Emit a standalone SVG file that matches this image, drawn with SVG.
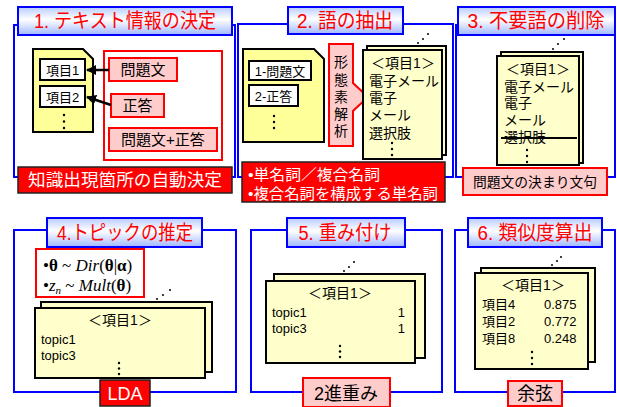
<svg xmlns="http://www.w3.org/2000/svg" width="617" height="407" viewBox="0 0 617 407">
<defs>
<linearGradient id="tg" x1="0" y1="0" x2="0" y2="1">
<stop offset="0" stop-color="#b8ccff"/>
<stop offset="0.45" stop-color="#ffffff"/>
<stop offset="1" stop-color="#a0b8ff"/>
</linearGradient>
<marker id="ah" viewBox="0 0 10 10" refX="9" refY="5" markerWidth="4" markerHeight="4" orient="auto">
<path d="M0,0 L10,5 L0,10 Z" fill="#000"/>
</marker>
<style>
.frame{fill:#fff;stroke:#0000ff;stroke-width:2}
.title{fill:url(#tg);stroke:#0000ff;stroke-width:2}
.tt{font-family:"Liberation Sans","Noto Sans CJK JP",sans-serif;font-size:20px;fill:#ff0000;text-anchor:middle}
.red{fill:#ff0000;stroke:#222;stroke-width:1.5}
.wt{font-family:"Liberation Sans","Noto Sans CJK JP",sans-serif;fill:#fff}
.pink{fill:#ffcccc;stroke:#ff0000;stroke-width:2}
.rbox{fill:#fff;stroke:#ff0000;stroke-width:2}
.doc{fill:#ffff99;stroke:#000;stroke-width:2}
.card{fill:#ffffcc;stroke:#000;stroke-width:2}
.wbox{fill:#fff;stroke:#000;stroke-width:2}
.t{font-family:"Liberation Sans","Noto Sans CJK JP",sans-serif;fill:#000}
.c{text-anchor:middle}
.dot{fill:#000}
.conn{stroke:#000;stroke-width:2.5;fill:none;marker-end:url(#ah)}
</style>
</defs>
<rect width="617" height="407" fill="#fff"/>

<!-- Panel 1 -->
<g id="panel1">
<rect class="frame" x="14" y="25" width="221" height="152"/>
<rect class="title" x="18" y="7" width="214" height="28"/>
<text class="tt" x="125" y="28" textLength="182" lengthAdjust="spacingAndGlyphs">1. テキスト情報の決定</text>
</g>
<g id="doc1">
<path class="doc" d="M33,49 H83 L93,59 V132 H33 Z"/>
</g>
<g id="item1">
<rect class="wbox" x="40" y="59" width="45" height="21"/>
<text class="t c" x="62.5" y="75" font-size="13">項目1</text>
</g>
<g id="item2">
<rect class="wbox" x="40" y="86" width="45" height="21"/>
<text class="t c" x="62.5" y="102" font-size="13">項目2</text>
</g>
<g id="dots1">
<circle class="dot" cx="64" cy="115" r="1.2"/><circle class="dot" cx="64" cy="121.5" r="1.2"/><circle class="dot" cx="64" cy="128" r="1.2"/>
</g>
<g id="choices">
<rect class="rbox" x="104" y="51" width="118" height="109"/>
</g>
<g id="mondaibun">
<rect class="pink" x="109" y="58" width="68" height="23"/>
<text class="t c" x="143" y="75" font-size="15">問題文</text>
</g>
<g id="seitou">
<rect class="pink" x="111" y="94" width="53" height="23"/>
<text class="t c" x="137.5" y="111" font-size="15">正答</text>
</g>
<g id="both">
<rect class="pink" x="109" y="128" width="108" height="23"/>
<text class="t c" x="163" y="145" font-size="15">問題文+正答</text>
</g>
<g id="auto1">
<rect class="red" x="18" y="167" width="214" height="26"/>
<text class="wt" x="125" y="186" font-size="17" text-anchor="middle" textLength="194" lengthAdjust="spacingAndGlyphs">知識出現箇所の自動決定</text>
</g>

<!-- Panel 2 -->
<g id="panel2">
<rect class="frame" x="238" y="24" width="215" height="153"/>
<rect class="title" x="288" y="7" width="115" height="27"/>
<text class="tt" x="345" y="28" textLength="96" lengthAdjust="spacingAndGlyphs">2. 語の抽出</text>
</g>
<g id="doc2">
<path class="doc" d="M243,49 H314 L324,59 V142 H243 Z"/>
</g>
<g id="q1">
<rect class="wbox" x="249" y="61" width="62" height="19"/>
<text class="t c" x="280" y="76" font-size="13">1-問題文</text>
</g>
<g id="q2">
<rect class="wbox" x="249" y="85" width="49" height="21"/>
<text class="t c" x="273.5" y="101" font-size="13">2-正答</text>
</g>
<g id="dots2">
<circle class="dot" cx="274" cy="116" r="1.2"/><circle class="dot" cx="274" cy="122" r="1.2"/><circle class="dot" cx="274" cy="128" r="1.2"/>
</g>
<g id="keitaiso">
<path class="pink" d="M329,44 H353 V83 L368,97 L353,111 V146 H329 Z"/>
<text class="t c" x="341" y="67" font-size="14">形</text>
<text class="t c" x="341" y="85" font-size="14">態</text>
<text class="t c" x="341" y="102" font-size="14">素</text>
<text class="t c" x="341" y="119" font-size="14">解</text>
<text class="t c" x="341" y="136" font-size="14">析</text>
</g>
<g id="card2">
<rect class="card" x="367" y="46" width="79" height="109"/>
<rect class="card" x="363" y="50" width="79" height="109"/>
<text class="t c" x="403" y="68" font-size="14">＜項目1＞</text>
<text class="t" x="369" y="86" font-size="14">電子メール</text>
<text class="t" x="369" y="103" font-size="14">電子</text>
<text class="t" x="369" y="120" font-size="14">メール</text>
<text class="t" x="369" y="138" font-size="14">選択肢</text>
<circle class="dot" cx="392" cy="143" r="1.2"/><circle class="dot" cx="392" cy="149" r="1.2"/><circle class="dot" cx="392" cy="155" r="1.2"/>
<circle class="dot" cx="418" cy="43" r="1"/><circle class="dot" cx="423" cy="39" r="1"/><circle class="dot" cx="428" cy="34" r="1"/>
</g>
<g id="nouns">
<rect class="red" x="242" y="162" width="203" height="40"/>
<text class="wt" x="248" y="180" font-size="15" textLength="132" lengthAdjust="spacingAndGlyphs">•単名詞／複合名詞</text>
<text class="wt" x="248" y="199" font-size="15" textLength="190" lengthAdjust="spacingAndGlyphs">•複合名詞を構成する単名詞</text>
</g>

<!-- Panel 3 -->
<g id="panel3">
<rect class="frame" x="456" y="25" width="159" height="152"/>
<rect class="title" x="458" y="7" width="157" height="28"/>
<text class="tt" x="536" y="28" textLength="137" lengthAdjust="spacingAndGlyphs">3. 不要語の削除</text>
</g>
<g id="card3">
<rect class="card" x="501" y="52" width="82" height="111"/>
<rect class="card" x="497" y="56" width="82" height="109"/>
<text class="t c" x="538" y="74" font-size="14">＜項目1＞</text>
<text class="t" x="504" y="92" font-size="14">電子メール</text>
<text class="t" x="504" y="108" font-size="14">電子</text>
<text class="t" x="504" y="125" font-size="14">メール</text>
<text class="t" x="504" y="142" font-size="14">選択肢</text>
<line x1="501" y1="138" x2="577" y2="138" stroke="#000" stroke-width="2"/>
<circle class="dot" cx="527" cy="150" r="1.2"/><circle class="dot" cx="527" cy="156" r="1.2"/><circle class="dot" cx="527" cy="162" r="1.2"/>
<circle class="dot" cx="553" cy="49" r="1"/><circle class="dot" cx="558" cy="44" r="1"/><circle class="dot" cx="564" cy="39" r="1"/>
</g>
<g id="kimari">
<rect class="pink" x="463" y="168" width="144" height="27"/>
<text class="t c" x="535" y="187" font-size="14" textLength="124" lengthAdjust="spacingAndGlyphs">問題文の決まり文句</text>
</g>

<!-- Panel 4 -->
<g id="panel4">
<rect class="frame" x="14" y="230" width="222" height="162"/>
<rect class="title" x="47" y="218" width="155" height="29"/>
<text class="tt" x="125" y="240" textLength="136" lengthAdjust="spacingAndGlyphs">4.トピックの推定</text>
</g>
<g id="formula">
<rect class="rbox" x="36" y="249" width="108" height="48"/>
<text x="43" y="271" font-family="Liberation Serif, serif" font-size="17" fill="#000">•<tspan font-weight="bold">θ</tspan> ~ <tspan font-style="italic">Dir</tspan>(<tspan font-weight="bold">θ</tspan>|<tspan font-weight="bold">α</tspan>)</text>
<text x="43" y="291" font-family="Liberation Serif, serif" font-size="17" fill="#000">•<tspan font-style="italic">z</tspan><tspan font-style="italic" font-size="11" dy="3">n</tspan><tspan dy="-3"> ~ </tspan><tspan font-style="italic">Mult</tspan>(<tspan font-weight="bold">θ</tspan>)</text>
</g>
<g id="card4">
<rect class="card" x="41" y="302" width="171" height="70"/>
<rect class="card" x="35" y="308" width="170" height="70"/>
<text class="t c" x="120" y="325" font-size="14">＜項目1＞</text>
<text class="t" x="41" y="344" font-size="13">topic1</text>
<text class="t" x="41" y="360" font-size="13">topic3</text>
<circle class="dot" cx="119" cy="363" r="1.2"/><circle class="dot" cx="119" cy="368.5" r="1.2"/><circle class="dot" cx="119" cy="374" r="1.2"/>
<circle class="dot" cx="157" cy="299" r="1"/><circle class="dot" cx="163" cy="295" r="1"/><circle class="dot" cx="170" cy="290" r="1"/>
</g>
<g id="lda">
<rect class="red" x="100" y="380" width="50" height="26"/>
<text class="wt c" x="125" y="400" font-size="18" text-anchor="middle">LDA</text>
</g>

<!-- Panel 5 -->
<g id="panel5">
<rect class="frame" x="251" y="230" width="191" height="162"/>
<rect class="title" x="287" y="218" width="118" height="29"/>
<text class="tt" x="345" y="240" textLength="93" lengthAdjust="spacingAndGlyphs">5. 重み付け</text>
</g>
<g id="card5">
<rect class="card" x="274" y="274" width="151" height="84"/>
<rect class="card" x="266" y="281" width="149" height="82"/>
<text class="t c" x="340" y="298" font-size="14">＜項目1＞</text>
<text class="t" x="272" y="317" font-size="13">topic1</text>
<text class="t" x="405" y="317" font-size="13" text-anchor="end">1</text>
<text class="t" x="272" y="333" font-size="13">topic3</text>
<text class="t" x="405" y="333" font-size="13" text-anchor="end">1</text>
<circle class="dot" cx="340" cy="346" r="1.2"/><circle class="dot" cx="340" cy="351.5" r="1.2"/><circle class="dot" cx="340" cy="357" r="1.2"/>
<circle class="dot" cx="344" cy="271" r="1"/><circle class="dot" cx="349" cy="267" r="1"/><circle class="dot" cx="354" cy="262" r="1"/>
</g>
<g id="binary">
<rect class="pink" x="303" y="378" width="87" height="29"/>
<text class="t c" x="346" y="400" font-size="18">2進重み</text>
</g>

<!-- Panel 6 -->
<g id="panel6">
<rect class="frame" x="455" y="230" width="160" height="162"/>
<rect class="title" x="468" y="218" width="134" height="29"/>
<text class="tt" x="535" y="240" textLength="115" lengthAdjust="spacingAndGlyphs">6. 類似度算出</text>
</g>
<g id="card6">
<rect class="card" x="481" y="268" width="114" height="94"/>
<rect class="card" x="475" y="273" width="113" height="96"/>
<text class="t c" x="533" y="290" font-size="14">＜項目1＞</text>
<text class="t" x="482" y="309" font-size="13">項目4</text>
<text class="t" x="544" y="309" font-size="13">0.875</text>
<text class="t" x="482" y="326" font-size="13">項目2</text>
<text class="t" x="544" y="326" font-size="13">0.772</text>
<text class="t" x="482" y="343" font-size="13">項目8</text>
<text class="t" x="544" y="343" font-size="13">0.248</text>
<circle class="dot" cx="532" cy="352" r="1.2"/><circle class="dot" cx="532" cy="358" r="1.2"/><circle class="dot" cx="532" cy="364" r="1.2"/>
<circle class="dot" cx="552" cy="265" r="1"/><circle class="dot" cx="557" cy="261" r="1"/><circle class="dot" cx="561" cy="257" r="1"/>
</g>
<g id="cosine">
<rect class="pink" x="508" y="381" width="54" height="25"/>
<text class="t c" x="535" y="400" font-size="18">余弦</text>
</g>

<g id="connectors">
<line class="conn" x1="109" y1="70" x2="87" y2="70"/>
<line class="conn" x1="111" y1="105" x2="87" y2="97"/>
</g>
</svg>
